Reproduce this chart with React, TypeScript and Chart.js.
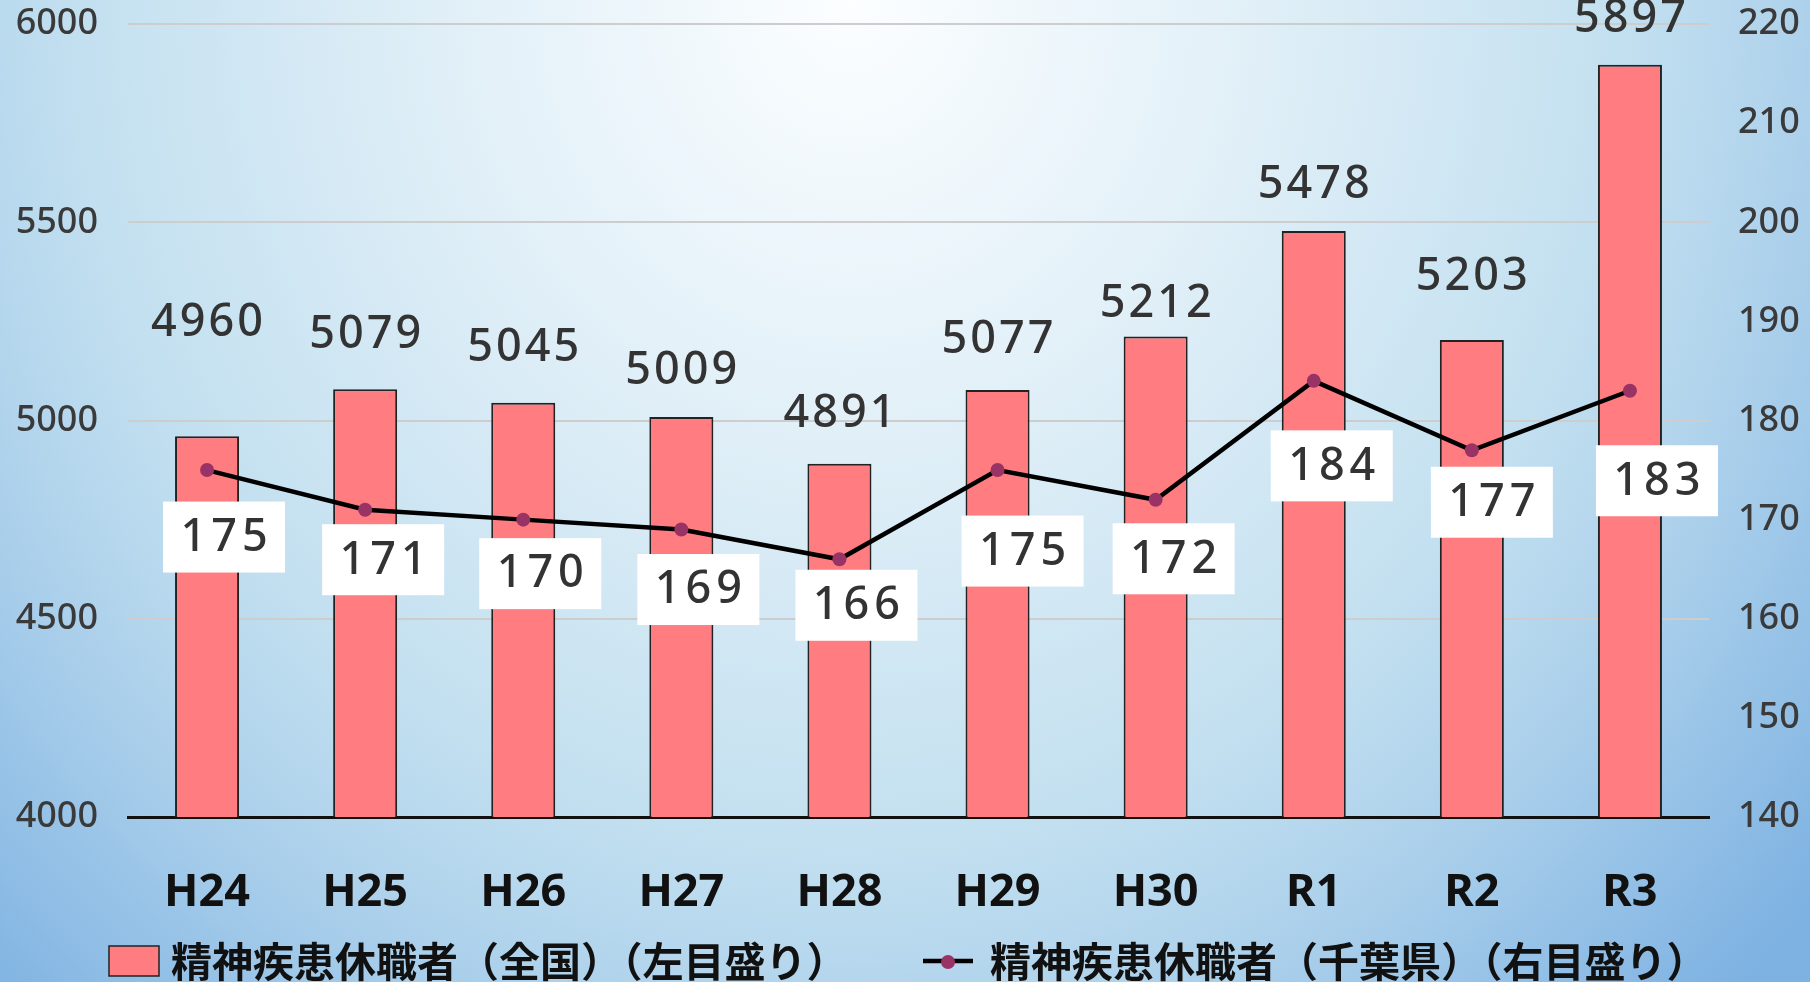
import React, { useEffect, useRef } from 'react';
import { Chart, registerables } from 'chart.js';

Chart.register(...registerables);

const categories = ['H24', 'H25', 'H26', 'H27', 'H28', 'H29', 'H30', 'R1', 'R2', 'R3'];
const nationalValues = [4960, 5079, 5045, 5009, 4891, 5077, 5212, 5478, 5203, 5897];
const chibaValues = [175, 171, 170, 169, 166, 175, 172, 184, 177, 183];
const seriesNames = ['精神疾患休職者（全国）（左目盛り）', '精神疾患休職者（千葉県）（右目盛り）'];
const leftAxis = { min: 4000, max: 6000, step: 500 };
const rightAxis = { min: 140, max: 220, step: 10 };

// label placement tweaks (pixels) as in the original layout
const barLabelLift = [113, 54, 54, 46, 50, 50, 32, 46, 63, 46];
const lineLabelShiftX = [17, 18, 17, 17, 17, 25, 18, 18, 20, 27];
const lineLabelShiftY = [67, 50, 54, 60, 46, 81, 59, 85, 52, 90];

const BAR_COLOR = '#FF7C80';
const DOT_COLOR = '#993366';
const NUM_FONT = '"Noto Sans", "Noto Sans CJK JP", sans-serif';
const CJK_FONT = '"Noto Sans CJK JP", "Noto Sans", sans-serif';

const valueLabelsPlugin = {
  id: 'valueLabels',
  afterDatasetsDraw(chart: any) {
    const ctx = chart.ctx as CanvasRenderingContext2D;
    const barMeta = chart.getDatasetMeta(0);
    const lineMeta = chart.getDatasetMeta(1);
    const barData = chart.data.datasets[0].data as number[];
    const lineData = chart.data.datasets[1].data as number[];
    ctx.save();
    ctx.font = `500 45px ${NUM_FONT}`;
    ctx.textAlign = 'center';
    ctx.textBaseline = 'middle';
    (ctx as any).letterSpacing = '3px';
    barMeta.data.forEach((el: any, i: number) => {
      ctx.fillStyle = '#333333';
      ctx.fillText(String(barData[i]), el.x + 1.5, el.y - barLabelLift[i]);
    });
    (ctx as any).letterSpacing = '5px';
    lineMeta.data.forEach((el: any, i: number) => {
      const cx = el.x + lineLabelShiftX[i];
      const cy = el.y + lineLabelShiftY[i];
      ctx.fillStyle = '#ffffff';
      ctx.fillRect(cx - 61, cy - 35.5, 122, 71);
      ctx.fillStyle = '#333333';
      ctx.fillText(String(lineData[i]), cx + 2.5, cy + 1);
    });
    ctx.restore();
  },
};

const legendPlugin = {
  id: 'customLegend',
  afterDraw(chart: any) {
    const ctx = chart.ctx as CanvasRenderingContext2D;
    const names = chart.data.datasets.map((d: any) => d.label as string);
    ctx.save();
    ctx.font = `bold 41px ${CJK_FONT}`;
    ctx.textBaseline = 'middle';
    ctx.textAlign = 'left';
    const symW = 50;
    const gapText = 12;
    const cy = 961;
    const item1X = 109;
    const item2X = 923;
    // item 1: box
    ctx.fillStyle = BAR_COLOR;
    ctx.fillRect(item1X, cy - 15, symW, 30);
    ctx.strokeStyle = '#222';
    ctx.lineWidth = 1.5;
    ctx.strokeRect(item1X, cy - 15, symW, 30);
    ctx.fillStyle = '#111';
    ctx.fillText(names[0], item1X + symW + gapText, cy);
    // item 2: line + dot
    ctx.strokeStyle = '#000';
    ctx.lineWidth = 4.5;
    ctx.beginPath();
    ctx.moveTo(item2X, cy);
    ctx.lineTo(item2X + symW, cy);
    ctx.stroke();
    ctx.fillStyle = DOT_COLOR;
    ctx.beginPath();
    ctx.arc(item2X + symW / 2, cy + 1, 7, 0, Math.PI * 2);
    ctx.fill();
    ctx.fillStyle = '#111';
    ctx.fillText(names[1], item2X + symW + gapText + 5, cy);
    ctx.restore();
  },
};

export default function App() {
  const canvasRef = useRef<HTMLCanvasElement | null>(null);

  useEffect(() => {
    if (!canvasRef.current) return;
    const chart = new Chart(canvasRef.current, {
      type: 'bar',
      data: {
        labels: categories,
        datasets: [
          {
            type: 'bar',
            label: seriesNames[0],
            data: nationalValues,
            backgroundColor: BAR_COLOR,
            borderColor: '#222222',
            borderWidth: 2,
            categoryPercentage: 1,
            barPercentage: 0.405,
            yAxisID: 'y',
            order: 1,
          },
          {
            type: 'line',
            label: seriesNames[1],
            data: chibaValues,
            borderColor: '#000000',
            borderWidth: 4.5,
            pointRadius: 7,
            pointBackgroundColor: DOT_COLOR,
            pointBorderWidth: 0,
            tension: 0,
            yAxisID: 'y1',
            order: 0,
          },
        ],
      } as any,
      options: {
        responsive: false,
        animation: false,
        layout: { padding: { top: 24, bottom: 13, left: 0, right: 0 } },
        plugins: {
          legend: { display: false },
          tooltip: { enabled: false },
        },
        scales: {
          x: {
            grid: { display: false, drawTicks: false },
            border: { display: true, color: '#111111', width: 3 },
            ticks: {
              padding: 49,
              color: '#111111',
              font: { family: NUM_FONT, size: 45, weight: 'bold' },
            },
          },
          y: {
            position: 'left',
            min: leftAxis.min,
            max: leftAxis.max,
            grid: {
              drawTicks: false,
              color: (c: any) => (c.tick && c.tick.value === leftAxis.min ? 'rgba(0,0,0,0)' : '#cdcdcd'),
              lineWidth: 2,
            },
            border: { display: false },
            ticks: {
              stepSize: leftAxis.step,
              padding: 30,
              color: '#3a3a3a',
              font: { family: NUM_FONT, size: 36, weight: '500' },
              callback: (v: any) => String(v),
            },
            afterFit: (s: any) => {
              s.width = 128;
              s.paddingTop = 0;
              s.paddingBottom = 0;
            },
          },
          y1: {
            position: 'right',
            min: rightAxis.min,
            max: rightAxis.max,
            grid: { display: false, drawTicks: false },
            border: { display: false },
            ticks: {
              stepSize: rightAxis.step,
              padding: 29,
              color: '#3a3a3a',
              font: { family: NUM_FONT, size: 36, weight: '500' },
              callback: (v: any) => String(v),
            },
            afterFit: (s: any) => {
              s.width = 101;
              s.paddingTop = 0;
              s.paddingBottom = 0;
            },
          },
        },
      } as any,
      plugins: [valueLabelsPlugin, legendPlugin],
    });
    return () => chart.destroy();
  }, []);

  return (
    <div
      style={{
        position: 'fixed',
        left: 0,
        top: 0,
        width: 1810,
        height: 982,
        background:
          'radial-gradient(1100px 1200px at 47% 0%, #fcfeff 0%, #e2f0f8 35%, #c3e0f0 70%, #b0d3ec 85%, #7eb2e2 115%)',
      }}
    >
      <canvas ref={canvasRef} width={1810} height={982} style={{ display: 'block' }} />
    </div>
  );
}
